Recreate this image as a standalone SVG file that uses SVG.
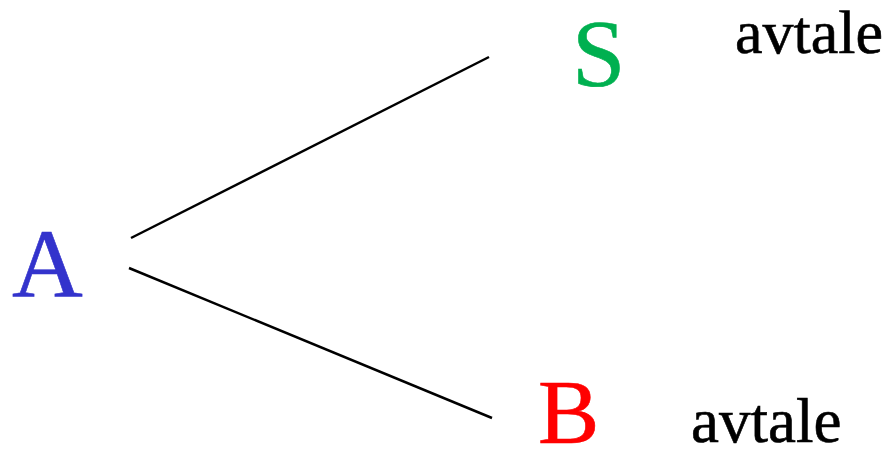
<svg xmlns="http://www.w3.org/2000/svg" width="891" height="449" viewBox="0 0 891 449">
<style>
text{font-family:'Liberation Serif','Times New Roman',serif;stroke-width:0.6}
.c{stroke:#000;stroke-width:2.5;fill:none}
</style>
<rect width="891" height="449" fill="#fff"/>
<g id="connectors">
<line class="c" x1="131" y1="238" x2="489" y2="57"/>
<line class="c" x1="129" y1="268" x2="492" y2="418"/>
</g>
<g id="nodeA"><text x="12" y="296" font-size="98" fill="#3333CC" stroke="#3333CC">A</text></g>
<g id="nodeS"><text x="572" y="86" font-size="96" fill="#00B050" stroke="#00B050">S</text></g>
<g id="nodeB"><text x="538" y="443" font-size="92" fill="#FF0000" stroke="#FF0000">B</text></g>
<g id="labelS"><text x="735" y="53" font-size="62" fill="#000" stroke="#000">avtale</text></g>
<g id="labelB"><text x="691" y="442" font-size="63" fill="#000" stroke="#000">avtale</text></g>
</svg>
